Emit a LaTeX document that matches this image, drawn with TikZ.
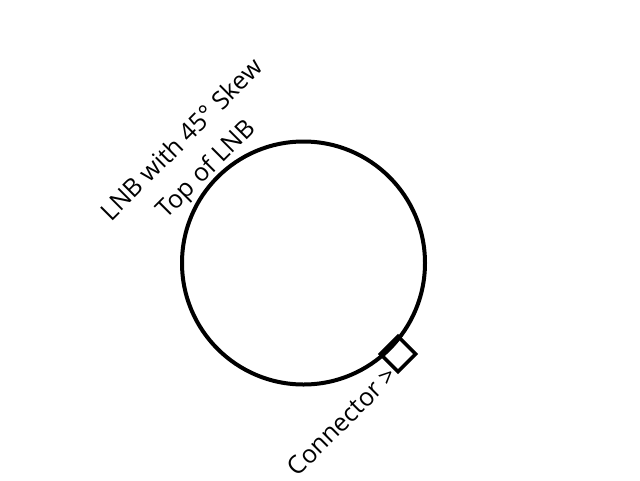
\documentclass[tikz,border=0pt]{standalone}
\usepackage{fontspec}
\setmainfont{Open Sans}
\begin{document}
\begin{tikzpicture}[x=1pt,y=-1pt,
  lbl/.style={rotate=45,font=\fontsize{25}{30}\selectfont,inner sep=0pt},
  dish/.style={draw,line width=4pt,circle,inner sep=0pt,minimum size=243pt},
  conn/.style={draw,line width=3.5pt,rotate=45,inner sep=0pt,minimum size=25pt}]
\useasboundingbox (0,0) rectangle (640,480);
\node[dish] (lnb) at (303.5,263) {};
\node[conn] (cn) at (398,354) {};
\node[lbl] (t1) at (181,139) {LNB with 45° Skew};
\node[lbl] (t2) at (207,170) {Top of LNB};
\node[lbl] (t3) at (342,421) {Connector >};
\end{tikzpicture}
\end{document}
